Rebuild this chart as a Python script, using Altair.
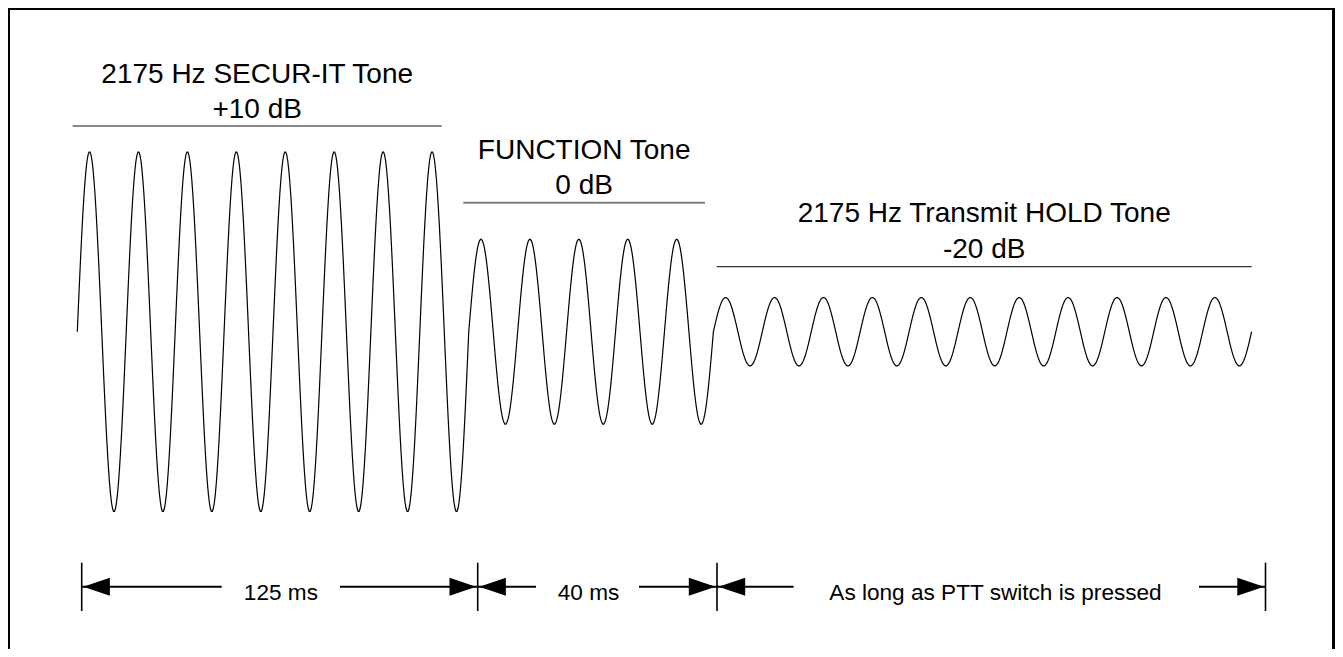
import altair as alt
import pandas as pd

# ---------------- values ----------------
tone_names = ["2175 Hz SECUR-IT Tone", "FUNCTION Tone", "2175 Hz Transmit HOLD Tone"]
tone_levels = ["+10 dB", "0 dB", "-20 dB"]
tone_cycles = [8, 5, 11]                 # drawn cycles per segment
tone_amplitudes = [1.0, 0.514, 0.19]     # relative drawn amplitude
durations = ["125 ms", "40 ms", "As long as PTT switch is pressed"]

# ---------------- layout (page pixels) ----------------
W, H = 1327, 641
X0, PXC = 69.3, 48.93    # svg x of cycle 0, pixels per cycle
Y0, PXA = 323.7, 180.0   # svg y of zero level, pixels per unit amplitude


def cx(px):
    return (px - 8 - X0) / PXC


def cy(py):
    return (Y0 - (py - 8)) / PXA


x_scale = alt.Scale(domain=[cx(8), cx(8 + W)], nice=False, zero=False)
y_scale = alt.Scale(domain=[cy(8 + H), cy(8)], nice=False, zero=False)
FONT = "Liberation Sans"

# ---------------- waveform ----------------
b1 = tone_cycles[0]
b2 = b1 + tone_cycles[1]
total = sum(tone_cycles)
a1, a2, a3 = tone_amplitudes
amp_expr = f"datum.t <= {b1} ? {a1} : (datum.t <= {b2} ? {a2} : {a3})"

wave = (
    alt.Chart(alt.sequence(0, total + 0.01, 0.02, as_="t"))
    .transform_calculate(amp=amp_expr)
    .transform_calculate(v="datum.amp * sin(2 * PI * datum.t)")
    .mark_line(color="black", strokeWidth=1.2)
    .encode(
        x=alt.X("t:Q", scale=x_scale, axis=None),
        y=alt.Y("v:Q", scale=y_scale, axis=None),
    )
)

# ---------------- tone headings ----------------
ul_x = [72.7, 463.3, 716.7]
ul_x2 = [441.7, 705.0, 1251.7]
ul_y = [126.0, 202.7, 266.7]
ul_color = ["#111111", "#808080", "#333333"]
ul_w = [1.2, 2.0, 1.3]
line1_y = [83.3, 159.3, 221.7]
line2_y = [118.3, 194.0, 257.7]

head = pd.DataFrame({
    "x": [cx(a) for a in ul_x],
    "x2": [cx(b) for b in ul_x2],
    "xm": [cx((a + b) / 2) for a, b in zip(ul_x, ul_x2)],
    "y": [cy(v) for v in ul_y],
    "y1": [cy(v) for v in line1_y],
    "y2": [cy(v) for v in line2_y],
    "col": ul_color,
    "w": ul_w,
    "name": tone_names,
    "level": tone_levels,
})

underlines = alt.Chart(head).mark_rule().encode(
    x=alt.X("x:Q", scale=x_scale, axis=None),
    x2="x2:Q",
    y=alt.Y("y:Q", scale=y_scale, axis=None),
    color=alt.Color("col:N", scale=None),
    strokeWidth=alt.StrokeWidth("w:Q", scale=None),
)
name_text = alt.Chart(head).mark_text(
    font=FONT, fontSize=28, align="center", baseline="alphabetic", color="black"
).encode(
    x=alt.X("xm:Q", scale=x_scale, axis=None),
    y=alt.Y("y1:Q", scale=y_scale, axis=None),
    text="name:N",
)
level_text = alt.Chart(head).mark_text(
    font=FONT, fontSize=28, align="center", baseline="alphabetic", color="black"
).encode(
    x=alt.X("xm:Q", scale=x_scale, axis=None),
    y=alt.Y("y2:Q", scale=y_scale, axis=None),
    text="level:N",
)

# ---------------- duration dimension lines ----------------
tick_x = [81.7, 477.7, 717.0, 1265.5]
dim_y = 586.7
tick_y1, tick_y2 = 562.7, 611.0
left_line_end = [221.7, 536.0, 793.6]
right_line_start = [340.0, 639.0, 1199.0]
dur_center = [280.9, 588.5, 995.5]
dur_baseline = 600.0
ARROW_LEN, ARROW_H = 26.7, 18.0

ticks = pd.DataFrame({
    "x": [cx(v) for v in tick_x],
    "y": [cy(tick_y1)] * 4,
    "y2": [cy(tick_y2)] * 4,
})
tick_rules = alt.Chart(ticks).mark_rule(color="black", strokeWidth=1.6).encode(
    x=alt.X("x:Q", scale=x_scale, axis=None),
    y=alt.Y("y:Q", scale=y_scale, axis=None),
    y2="y2:Q",
)

segs = []
for i in range(3):
    segs.append({"x": cx(tick_x[i]), "x2": cx(left_line_end[i]), "y": cy(dim_y)})
    segs.append({"x": cx(right_line_start[i]), "x2": cx(tick_x[i + 1]), "y": cy(dim_y)})
dim_lines = alt.Chart(pd.DataFrame(segs)).mark_rule(color="black", strokeWidth=2).encode(
    x=alt.X("x:Q", scale=x_scale, axis=None),
    x2="x2:Q",
    y=alt.Y("y:Q", scale=y_scale, axis=None),
)

dur = pd.DataFrame({
    "x": [cx(v) for v in dur_center],
    "y": [cy(dur_baseline)] * 3,
    "label": durations,
})
dur_text = alt.Chart(dur).mark_text(
    font=FONT, fontSize=22.6, align="center", baseline="alphabetic", color="black"
).encode(
    x=alt.X("x:Q", scale=x_scale, axis=None),
    y=alt.Y("y:Q", scale=y_scale, axis=None),
    text="label:N",
)

half = ARROW_LEN / 2
k = ARROW_H / ARROW_LEN
left_heads = pd.DataFrame({
    "x": [cx(tick_x[i] + 1.5 + half) for i in range(3)],
    "y": [cy(dim_y)] * 3,
})
right_heads = pd.DataFrame({
    "x": [cx(tick_x[i + 1] - 1.5 - half) for i in range(3)],
    "y": [cy(dim_y)] * 3,
})
left_shape = f"M-1,0L1,{-k:.4f}L1,{k:.4f}Z"
right_shape = f"M1,0L-1,{-k:.4f}L-1,{k:.4f}Z"
size = ARROW_LEN ** 2

lh = alt.Chart(left_heads).mark_point(
    shape=left_shape, filled=True, color="black", size=size, opacity=1, strokeWidth=0
).encode(
    x=alt.X("x:Q", scale=x_scale, axis=None),
    y=alt.Y("y:Q", scale=y_scale, axis=None),
)
rh = alt.Chart(right_heads).mark_point(
    shape=right_shape, filled=True, color="black", size=size, opacity=1, strokeWidth=0
).encode(
    x=alt.X("x:Q", scale=x_scale, axis=None),
    y=alt.Y("y:Q", scale=y_scale, axis=None),
)

# ---------------- outer frame ----------------
frame = alt.Chart(pd.DataFrame({"k": [0]})).mark_rect(
    fillOpacity=0, stroke="black", strokeWidth=3
).encode(
    x=alt.value(0.5), x2=alt.value(W - 1.5), y=alt.value(0.5), y2=alt.value(H + 30)
)

chart = (
    alt.layer(frame, wave, underlines, name_text, level_text,
              tick_rules, dim_lines, dur_text, lh, rh)
    .properties(width=W, height=H, autosize=alt.AutoSizeParams(type="none"), padding=0,
                background="white")
    .configure_view(strokeWidth=0)
)

chart.save("out.html", embed_options={"renderer": "svg", "actions": False})
